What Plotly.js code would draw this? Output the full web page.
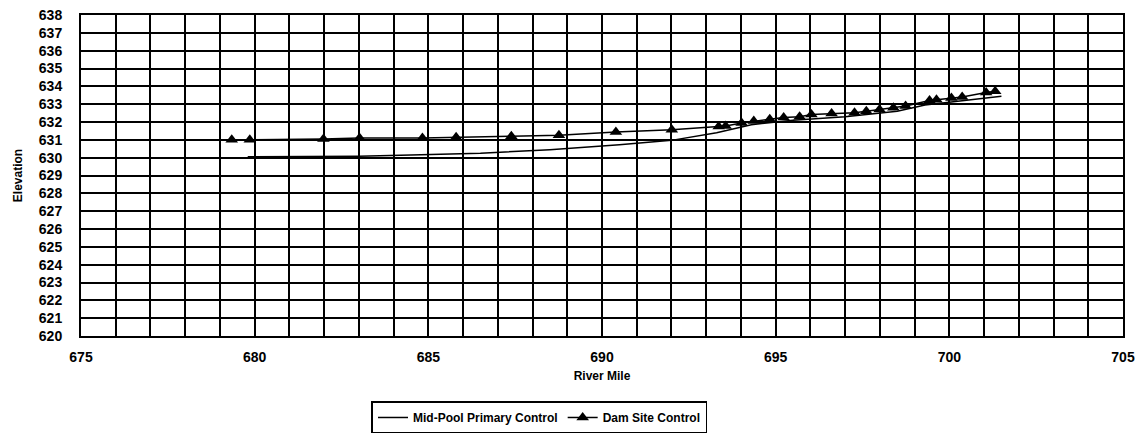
<!DOCTYPE html>
<html>
<head>
<meta charset="utf-8">
<script src="https://cdn.plot.ly/plotly-3.0.1.min.js"></script>
<style>
html,body{margin:0;padding:0;background:#fff;}
#chart{width:1140px;height:446px;}
</style>
</head>
<body>
<div id="chart"></div>
<script>
// Mid-Pool Primary Control (line only)
const midPoolMile = [679.8, 681.0, 683.0, 684.5, 686.5, 688.5, 690.5, 692.0, 693.3, 694.3, 695.5, 697.0, 698.5, 699.3, 700.0, 701.5];
const midPoolElev = [630.05, 630.05, 630.08, 630.15, 630.25, 630.45, 630.72, 630.97, 631.4, 631.85, 632.1, 632.3, 632.6, 632.95, 633.1, 633.45];

// Dam Site Control (line + triangles)
const damMile = [679.34, 679.86, 681.98, 683.02, 684.83, 685.80, 687.39, 688.76, 690.40, 692.01,
                 693.36, 693.56, 694.02, 694.37, 694.83, 695.23, 695.69, 696.03, 696.61, 697.27,
                 697.61, 697.99, 698.39, 698.74, 699.43, 699.63, 700.06, 700.37, 701.06, 701.32];
const damElev = [631.0, 631.0, 631.05, 631.1, 631.1, 631.15, 631.2, 631.26, 631.44, 631.57,
                 631.75, 631.78, 631.95, 632.05, 632.15, 632.25, 632.3, 632.42, 632.48, 632.52,
                 632.6, 632.7, 632.8, 632.9, 633.2, 633.25, 633.35, 633.4, 633.65, 633.72];

const xTicks = [675, 680, 685, 690, 695, 700, 705];
const yTicks = [620,621,622,623,624,625,626,627,628,629,630,631,632,633,634,635,636,637,638];

const fontFam = '"Liberation Sans", Arial, sans-serif';

const traces = [
  {
    x: midPoolMile, y: midPoolElev, type: 'scatter', mode: 'lines',
    name: 'Mid-Pool Primary Control',
    line: {color: '#000', width: 1.5}
  },
  {
    x: damMile, y: damElev, type: 'scatter', mode: 'lines+markers',
    name: 'Dam Site Control',
    line: {color: '#000', width: 1.5},
    marker: {symbol: 'triangle-up', size: 11, color: '#000'}
  }
];

const layout = {
  width: 1140, height: 446,
  paper_bgcolor: '#fff', plot_bgcolor: '#fff',
  margin: {l: 81, r: 17, t: 15, b: 102},
  font: {family: fontFam, color: '#000', size: 13, weight: 'bold'},
  showlegend: true,
  legend: {
    orientation: 'h', x: 0.44, xanchor: 'center', y: -0.204, yanchor: 'top',
    bordercolor: '#000', borderwidth: 1.5, bgcolor: '#fff',
    font: {family: fontFam, size: 12, color: '#000', weight: 'bold'},
    tracegroupgap: 0, itemwidth: 30
  },
  xaxis: {
    range: [675, 705], tickvals: xTicks, ticktext: xTicks.map(String),
    automargin: false,
    showgrid: true, gridcolor: '#000', gridwidth: 2,
    minor: {dtick: 1, showgrid: true, gridcolor: '#000', gridwidth: 2},
    showline: true, linecolor: '#000', linewidth: 2, mirror: true,
    zeroline: false, ticks: '', ticklabelstandoff: 7,
    tickfont: {family: fontFam, size: 14, weight: 'bold'},
    title: {text: 'River Mile', font: {family: fontFam, size: 12, weight: 'bold'}, standoff: 8}
  },
  yaxis: {
    range: [620, 638], tickvals: yTicks, ticktext: yTicks.map(String),
    automargin: false,
    showgrid: true, gridcolor: '#000', gridwidth: 2,
    showline: true, linecolor: '#000', linewidth: 2, mirror: true,
    zeroline: false, ticks: '', ticklabelstandoff: 14,
    tickfont: {family: fontFam, size: 14, weight: 'bold'},
    title: {text: 'Elevation', font: {family: fontFam, size: 12, weight: 'bold'}, standoff: 14}
  }
};

Plotly.newPlot('chart', traces, layout, {displayModeBar: false, staticPlot: true});
</script>
</body>
</html>
